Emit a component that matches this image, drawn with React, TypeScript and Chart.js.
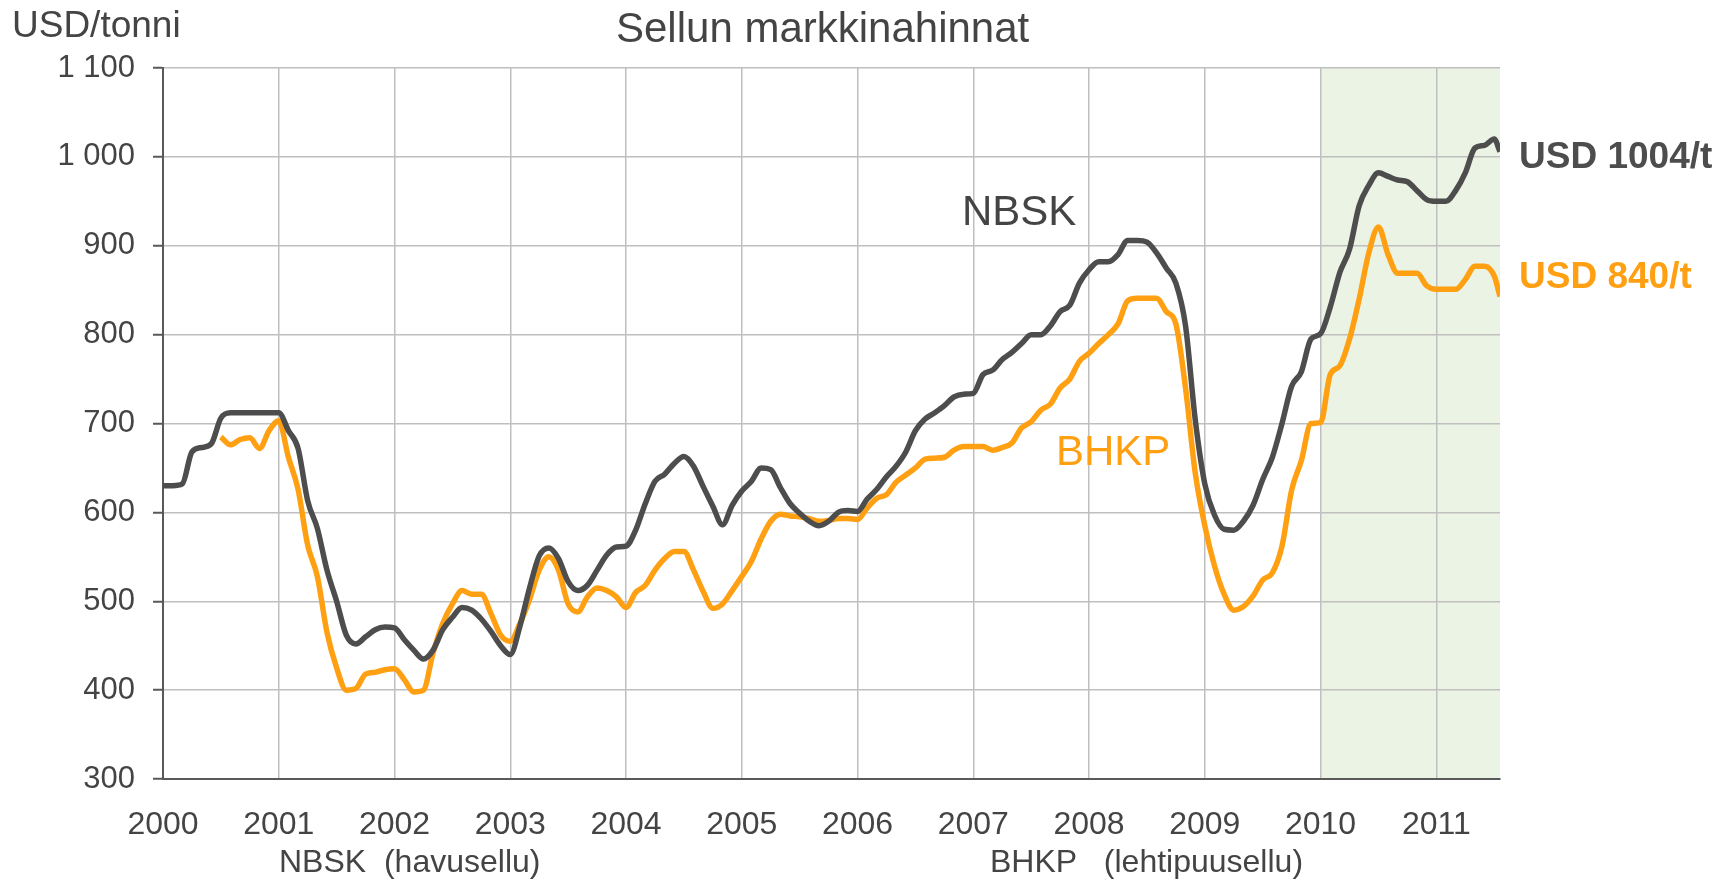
import React, { useEffect, useRef } from 'react';
import { Chart, registerables } from 'chart.js';

Chart.register(...registerables);

// ---- Data (monthly readings, month 0 = Jan 2000) ----
const START_YEAR = 2000;
const NBSK_START_MONTH = 0;
const BHKP_START_MONTH = 6;
const END_MONTH = 138.6; // last weekly reading, mid-July 2011

const nbskMonthly = [
  630, 630, 632, 668, 673, 677, 706, 712, 712, 712, 712, 712, 712,
  692, 672, 613, 582, 535, 500, 462, 452, 460, 468, 471, 470,
  457, 445, 435, 445, 468, 482, 493, 490, 480, 466, 450, 440,
  472, 515, 551, 560, 548, 522, 512, 518, 535, 552, 561, 562,
  580, 610, 635, 643, 655, 663, 652, 629, 607, 586, 608, 624,
  635, 650, 648, 628, 610, 599, 590, 585, 590, 600, 602, 601,
  615, 626, 640, 652, 668, 692, 705, 712, 720, 730, 733, 734,
  755, 760, 772, 780, 790, 800, 800, 810, 826, 833, 858, 873,
  882, 882, 890, 906, 906, 904, 892, 875, 858, 810, 705, 632,
  597, 581, 580, 590, 608, 637, 662, 700, 742, 758, 795, 801,
  831, 870, 896, 945, 968, 982, 978, 974, 972, 962, 952, 950,
  950, 962, 982, 1010, 1013, 1020,
];
const nbskEnd = 1006;

const bhkpMonthly = [
  685, 676, 682, 684, 672, 692, 703,
  662, 626, 563, 528, 465, 425, 400, 402, 418, 420, 423, 424,
  412, 398, 400, 442, 475, 497, 512, 508, 508, 486, 462, 455,
  475, 502, 535, 550, 535, 497, 488, 505, 515, 512, 505, 493,
  510, 518, 535, 548, 556, 556, 535, 511, 492, 497, 512, 528,
  545, 570, 590, 598, 596, 595, 593, 590, 591, 593, 593, 592,
  605, 616, 620, 634, 642, 650, 660, 661, 662, 670, 674, 674,
  674, 670, 673, 678, 695, 702, 715, 722, 740, 750, 770, 779,
  790, 800, 812, 838, 841, 841, 841, 826, 812, 740, 645, 585,
  540, 508, 490, 494, 506, 524, 532, 562, 625, 658, 700, 701,
  755, 765, 795, 840, 892, 921, 890, 869, 869, 869, 855, 851,
  851, 851, 862, 877, 877, 866,
];
const bhkpEnd = 843;

const Y_MIN = 300;
const Y_MAX = 1100;
const Y_STEP = 100;
const SHADE_FROM_YEAR = 2010;

const TITLE = 'Sellun markkinahinnat';
const Y_UNIT = 'USD/tonni';
const NBSK_NAME = 'NBSK';
const BHKP_NAME = 'BHKP';
const NBSK_LAST_LABEL = 'USD 1004/t';
const BHKP_LAST_LABEL = 'USD 840/t';
const NBSK_FOOT = 'NBSK  (havusellu)';
const BHKP_FOOT = 'BHKP   (lehtipuusellu)';

const NBSK_COLOR = '#4D4D4D';
const BHKP_COLOR = '#FF9F12';
const TEXT_COLOR = '#444444';
const FONT = '"Liberation Sans", Arial, sans-serif';

function toPoints(start: number, values: number[], endValue: number) {
  const pts = values.map((v, i) => ({ x: START_YEAR + (start + i) / 12, y: v }));
  pts.push({ x: START_YEAR + END_MONTH / 12, y: endValue });
  return pts;
}

const decorPlugin = {
  id: 'decor',
  beforeDraw(chart: any) {
    const { ctx, chartArea, scales } = chart;
    const x0 = scales.x.getPixelForValue(SHADE_FROM_YEAR);
    ctx.save();
    ctx.fillStyle = '#EBF3E4';
    ctx.fillRect(x0, chartArea.top, chartArea.right - x0, chartArea.bottom - chartArea.top);
    ctx.restore();
  },
  afterDraw(chart: any) {
    const { ctx } = chart;
    ctx.save();
    ctx.textBaseline = 'alphabetic';
    ctx.textAlign = 'left';
    const txt = (s: string, x: number, y: number, size: number, color: string, bold = false) => {
      ctx.font = `${bold ? 'bold ' : ''}${size}px ${FONT}`;
      ctx.fillStyle = color;
      ctx.fillText(s, x, y);
    };
    txt(TITLE, 616, 42, 42, TEXT_COLOR);
    txt(Y_UNIT, 12, 37, 37, TEXT_COLOR);
    txt(NBSK_NAME, 962, 225, 42, TEXT_COLOR);
    txt(BHKP_NAME, 1056, 465, 42, BHKP_COLOR);
    txt(NBSK_LAST_LABEL, 1519, 168, 37, NBSK_COLOR, true);
    txt(BHKP_LAST_LABEL, 1519, 288, 37, BHKP_COLOR, true);
    txt(NBSK_FOOT, 279, 872, 32, TEXT_COLOR);
    txt(BHKP_FOOT, 990, 872, 32, TEXT_COLOR);
    ctx.restore();
  },
};

export default function App() {
  const canvasRef = useRef<HTMLCanvasElement | null>(null);

  useEffect(() => {
    if (!canvasRef.current) return;
    const chart = new Chart(canvasRef.current, {
      type: 'line',
      data: {
        datasets: [
          {
            label: NBSK_NAME,
            data: toPoints(NBSK_START_MONTH, nbskMonthly, nbskEnd),
            borderColor: NBSK_COLOR,
            borderWidth: 5.5,
            pointRadius: 0,
            cubicInterpolationMode: 'monotone',
            fill: false,
          },
          {
            label: BHKP_NAME,
            data: toPoints(BHKP_START_MONTH, bhkpMonthly, bhkpEnd),
            borderColor: BHKP_COLOR,
            borderWidth: 5.5,
            pointRadius: 0,
            cubicInterpolationMode: 'monotone',
            fill: false,
          },
        ],
      },
      options: {
        responsive: false,
        animation: false,
        layout: { padding: { left: 0, top: 68, right: 234, bottom: 0 } },
        plugins: {
          legend: { display: false },
          title: { display: false },
          tooltip: { enabled: false },
        },
        scales: {
          x: {
            type: 'linear',
            min: START_YEAR,
            max: START_YEAR + END_MONTH / 12,
            afterFit: (scale: any) => { scale.height = 104; },
            grid: { color: '#BFBFBF', lineWidth: 1.5, drawTicks: false },
            border: { display: true, color: '#595959', width: 2 },
            ticks: {
              stepSize: 1,
              includeBounds: false,
              padding: 27,
              color: TEXT_COLOR,
              font: { size: 32, family: FONT },
              maxRotation: 0,
              autoSkip: false,
              callback: (v: any) => String(v),
            },
          },
          y: {
            type: 'linear',
            min: Y_MIN,
            max: Y_MAX,
            afterFit: (scale: any) => { scale.width = 163; },
            grid: { color: '#BFBFBF', lineWidth: 1.5, drawTicks: true, tickLength: 10, tickColor: '#595959', tickWidth: 2 },
            border: { display: true, color: '#595959', width: 2 },
            ticks: {
              stepSize: Y_STEP,
              padding: 18,
              color: TEXT_COLOR,
              font: { size: 31, family: FONT },
              callback: (v: any) => {
                const n = Number(v);
                if (n >= 1000) {
                  return `${Math.floor(n / 1000)} ${String(n % 1000).padStart(3, '0')}`;
                }
                return String(n);
              },
            },
          },
        },
      },
      plugins: [decorPlugin],
    } as any);
    return () => chart.destroy();
  }, []);

  return (
    <div style={{ position: 'absolute', left: 0, top: 0, width: 1734, height: 883, background: '#ffffff' }}>
      <canvas ref={canvasRef} width={1734} height={883} style={{ display: 'block' }} />
    </div>
  );
}
